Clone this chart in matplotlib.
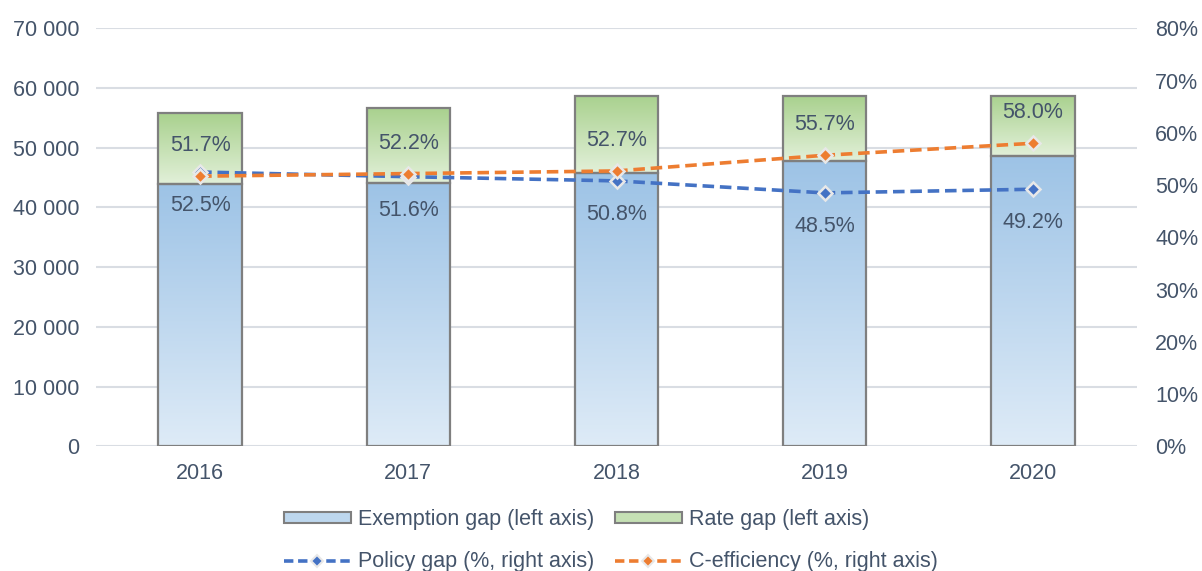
import numpy as np
import matplotlib
matplotlib.use("Agg")
import matplotlib.pyplot as plt
from matplotlib.colors import LinearSegmentedColormap
from matplotlib.patches import Patch
from matplotlib.lines import Line2D

years = ["2016", "2017", "2018", "2019", "2020"]
exemption_gap = [43900, 44150, 45700, 47850, 48650]
rate_gap = [11880, 12470, 12950, 10830, 10080]
policy_gap = [52.5, 51.6, 50.8, 48.5, 49.2]
c_efficiency = [51.7, 52.2, 52.7, 55.7, 58.0]

left_ticks = [0, 10000, 20000, 30000, 40000, 50000, 60000, 70000]
right_ticks = [0, 10, 20, 30, 40, 50, 60, 70, 80]

TEXT = "#44546A"
GRID = "#D9DDE3"
EDGE = "#7F7F7F"
BLUE_LINE = "#4472C4"
ORANGE_LINE = "#ED7D31"

plt.rcParams["font.family"] = ["Liberation Sans", "DejaVu Sans"]
FS = 15.5

fig = plt.figure(figsize=(12.02, 5.71), dpi=100)
ax = fig.add_axes([0.0799, 0.2184, 0.8660, 0.7320])
ax2 = ax.twinx()

x = np.arange(len(years))
width = 0.4

blue_cmap = LinearSegmentedColormap.from_list("b", ["#DEEBF7", "#9DC3E6"])
green_cmap = LinearSegmentedColormap.from_list("g", ["#E2F0D9", "#A9D18E"])


def gradient_bar(xc, bottom, height, cmap):
    bar = ax.bar(xc, height, width, bottom=bottom, color="none",
                 edgecolor=EDGE, linewidth=1.6, zorder=3)[0]
    grad = np.linspace(0, 1, 256).reshape(-1, 1)
    im = ax.imshow(grad, cmap=cmap, aspect="auto", origin="lower",
                   extent=[xc - width / 2, xc + width / 2, bottom, bottom + height],
                   zorder=2)
    im.set_clip_path(bar)
    return bar


for i in range(len(years)):
    gradient_bar(x[i], 0, exemption_gap[i], blue_cmap)
    gradient_bar(x[i], exemption_gap[i], rate_gap[i], green_cmap)

ax.set_xlim(-0.5, len(years) - 0.5)
ax.set_ylim(0, 70000)
ax.set_yticks(left_ticks)
ax.set_yticklabels([f"{v:,}".replace(",", " ") for v in left_ticks])
ax.set_xticks(x)
ax.set_xticklabels(years)
ax.grid(axis="y", color=GRID, linewidth=1.5, zorder=0)
ax.set_axisbelow(True)
for s in ax.spines.values():
    s.set_visible(False)
for s in ax2.spines.values():
    s.set_visible(False)
ax.tick_params(axis="y", length=0, pad=12, labelsize=FS, labelcolor=TEXT)
ax.tick_params(axis="x", length=0, pad=12, labelsize=FS, labelcolor=TEXT)

ax2.set_ylim(0, 80)
ax2.set_yticks(right_ticks)
ax2.set_yticklabels([f"{v}%" for v in right_ticks])
ax2.tick_params(axis="y", length=0, pad=13, labelsize=FS, labelcolor=TEXT)

dash = (0, (3.2, 1.6))
line_kw = dict(linestyle=dash, linewidth=2.6, marker="D",
               markersize=7.5, markeredgecolor="#E8E8E8", markeredgewidth=1.8,
               zorder=5)
ax2.plot(x, policy_gap, color=BLUE_LINE, markerfacecolor=BLUE_LINE, **line_kw)
ax2.plot(x, c_efficiency, color=ORANGE_LINE, markerfacecolor=ORANGE_LINE, **line_kw)

for i in range(len(years)):
    ax2.annotate(f"{policy_gap[i]:.1f}%", (x[i], policy_gap[i]),
                 xytext=(0, -24), textcoords="offset points",
                 ha="center", va="center", fontsize=FS, color=TEXT, zorder=6)
    ax2.annotate(f"{c_efficiency[i]:.1f}%", (x[i], c_efficiency[i]),
                 xytext=(0, 22), textcoords="offset points",
                 ha="center", va="center", fontsize=FS, color=TEXT, zorder=6)

handles = [
    Patch(facecolor="#BDD7EE", edgecolor=EDGE, linewidth=1.5),
    Line2D([], [], color=BLUE_LINE, linestyle=(0, (2.6, 1.3)), linewidth=2.6,
           marker="D", markersize=6, markerfacecolor=BLUE_LINE,
           markeredgecolor="#E8E8E8", markeredgewidth=1.5),
    Patch(facecolor="#C5E0B4", edgecolor=EDGE, linewidth=1.5),
    Line2D([], [], color=ORANGE_LINE, linestyle=(0, (2.6, 1.3)), linewidth=2.6,
           marker="D", markersize=6, markerfacecolor=ORANGE_LINE,
           markeredgecolor="#E8E8E8", markeredgewidth=1.5),
]
labels = ["Exemption gap (left axis)", "Policy gap (%, right axis)",
          "Rate gap (left axis)", "C-efficiency (%, right axis)"]
fig.legend(handles, labels, ncol=2, loc="center", bbox_to_anchor=(0.508, 0.053),
           frameon=False, fontsize=FS, labelcolor=TEXT, handlelength=3.15,
           handleheight=0.45, handletextpad=0.3, columnspacing=0.95,
           labelspacing=0.98)

fig.savefig("out.png", dpi=100)
